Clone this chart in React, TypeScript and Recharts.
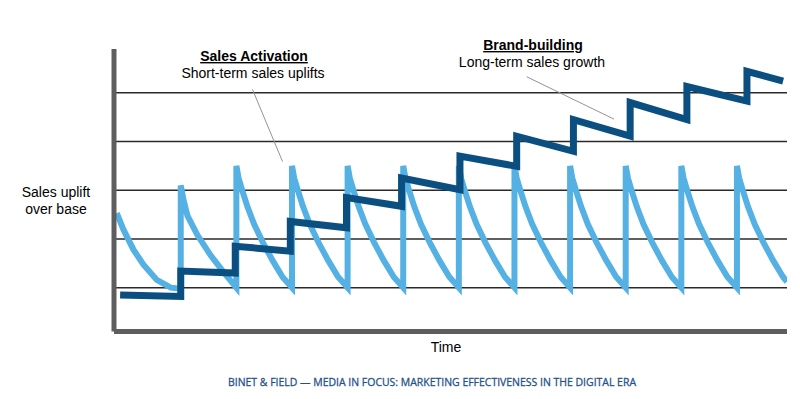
import React from "react";
import { LineChart, Line, XAxis, YAxis, ReferenceLine } from "recharts";

// Time axis (campaign bursts at whole units), vertical axis = sales uplift level
const gridLevels = [1, 2, 3, 4, 5];

// Light blue: short-term sales activation spikes [time, uplift]
const activationPoints: [number, number][] = [
  [-0.15, 2.53], [-0.03, 2.19], [0.15, 1.78], [0.33, 1.47], [0.57, 1.16], [0.82, 1.0], [1.0, 0.98],
  [1.0, 3.1], [1.05, 2.8], [1.12, 2.48], [1.3, 2.08], [1.54, 1.66], [1.77, 1.32], [2.0, 1.0],
  [2.0, 3.5], [2.04, 3.25], [2.1, 3.02], [2.2, 2.66], [2.32, 2.3], [2.48, 1.92], [2.65, 1.56], [2.83, 1.22], [3.0, 1.0],
  [3.0, 3.5], [3.04, 3.25], [3.1, 3.02], [3.2, 2.66], [3.32, 2.3], [3.48, 1.92], [3.65, 1.56], [3.83, 1.22], [4.0, 1.0],
  [4.0, 3.5], [4.04, 3.25], [4.1, 3.02], [4.2, 2.66], [4.32, 2.3], [4.48, 1.92], [4.65, 1.56], [4.83, 1.22], [5.0, 1.0],
  [5.0, 3.5], [5.04, 3.25], [5.1, 3.02], [5.2, 2.66], [5.32, 2.3], [5.48, 1.92], [5.65, 1.56], [5.83, 1.22], [6.0, 1.0],
  [6.0, 3.5], [6.04, 3.25], [6.1, 3.02], [6.2, 2.66], [6.32, 2.3], [6.48, 1.92], [6.65, 1.56], [6.83, 1.22], [7.0, 1.0],
  [7.0, 3.5], [7.04, 3.25], [7.1, 3.02], [7.2, 2.66], [7.32, 2.3], [7.48, 1.92], [7.65, 1.56], [7.83, 1.22], [8.0, 1.0],
  [8.0, 3.5], [8.04, 3.25], [8.1, 3.02], [8.2, 2.66], [8.32, 2.3], [8.48, 1.92], [8.65, 1.56], [8.83, 1.22], [9.0, 1.0],
  [9.0, 3.5], [9.04, 3.25], [9.1, 3.02], [9.2, 2.66], [9.32, 2.3], [9.48, 1.92], [9.65, 1.56], [9.83, 1.22], [10.0, 1.0],
  [10.0, 3.5], [10.04, 3.25], [10.1, 3.02], [10.2, 2.66], [10.32, 2.3], [10.48, 1.92], [10.65, 1.56], [10.83, 1.22], [11.0, 1.0],
  [11.0, 3.5], [11.04, 3.25], [11.1, 3.02], [11.2, 2.66], [11.32, 2.3], [11.48, 1.92], [11.65, 1.56], [11.83, 1.22], [11.9, 1.12],
];

// Dark blue: long-term brand-building baseline [time, uplift]
const brandPoints: [number, number][] = [
  [-0.09, 0.85], [1.0, 0.82], [1.0, 1.34], [1.98, 1.3], [1.98, 1.85], [2.97, 1.75], [2.97, 2.36],
  [3.98, 2.23], [3.98, 2.85], [4.97, 2.67], [4.97, 3.25], [6.02, 3.01], [6.02, 3.7], [7.04, 3.49],
  [7.04, 4.11], [8.06, 3.8], [8.06, 4.45], [9.08, 4.11], [9.08, 4.8], [10.1, 4.45], [10.1, 5.13],
  [11.18, 4.83], [11.18, 5.44], [11.83, 5.24],
];

// Annotation pointer lines [from, to]
const activationPointer: [number, number][] = [[2.29, 5.07], [2.83, 3.59]];
const brandPointer: [number, number][] = [[7.22, 5.33], [8.79, 4.46]];

const activationData = activationPoints.map(([t, v]) => ({ t, v }));
const brandData = brandPoints.map(([t, v]) => ({ t, v }));

const FONT = "'Liberation Sans', Arial, sans-serif";

export default function App() {
  return (
    <div style={{ position: "absolute", left: 0, top: 0, width: 800, height: 399, background: "#fff" }}>
      <LineChart width={800} height={399} margin={{ top: 49, right: 13, bottom: 37.5, left: 54 }}>
        <XAxis
          dataKey="t"
          type="number"
          domain={[-0.2, 11.9]}
          allowDataOverflow
          tick={false}
          tickLine={false}
          height={30}
          axisLine={{ stroke: "#5e5e5e", strokeWidth: 5 }}
        />
        <YAxis
          type="number"
          domain={[0.1, 5.9]}
          ticks={gridLevels}
          allowDataOverflow
          tick={false}
          tickLine={false}
          width={60}
          axisLine={{ stroke: "#5e5e5e", strokeWidth: 5 }}
        />
        {gridLevels.map((lv) => (
          <ReferenceLine key={lv} y={lv} stroke="#2a2a2a" strokeWidth={1.5} />
        ))}
        <ReferenceLine
          segment={activationPointer.map(([x, y]) => ({ x, y }))}
          stroke="#939393"
          strokeWidth={1}
        />
        <ReferenceLine
          segment={brandPointer.map(([x, y]) => ({ x, y }))}
          stroke="#939393"
          strokeWidth={1}
        />
        <Line
          data={activationData}
          dataKey="v"
          type="linear"
          stroke="#55b1e3"
          strokeWidth={6}
          strokeLinejoin="miter"
          dot={false}
          activeDot={false}
          isAnimationActive={false}
        />
        <Line
          data={brandData}
          dataKey="v"
          type="linear"
          stroke="#0b4f81"
          strokeWidth={7}
          strokeLinejoin="miter"
          dot={false}
          activeDot={false}
          isAnimationActive={false}
        />
      </LineChart>
      <svg
        width={800}
        height={399}
        style={{ position: "absolute", left: 0, top: 0, pointerEvents: "none" }}
      >
        <g fontFamily={FONT} fill="#000" textAnchor="middle">
          <text x={254} y={61} fontSize={14} fontWeight="bold" textDecoration="underline">
            Sales Activation
          </text>
          <text x={253} y={78} fontSize={14}>Short-term sales uplifts</text>
          <text x={533} y={50} fontSize={14} fontWeight="bold" textDecoration="underline">
            Brand-building
          </text>
          <text x={532} y={67} fontSize={14}>Long-term sales growth</text>
          <text x={56} y={197} fontSize={14}>Sales uplift</text>
          <text x={56} y={214} fontSize={14}>over base</text>
          <text x={446} y={352} fontSize={14}>Time</text>
        </g>
        <text
          x={432}
          y={385.5}
          textAnchor="middle"
          fontFamily="'Open Sans', 'Noto Sans', sans-serif"
          fontSize={11}
          fill="#1f5289"
          stroke="#1f5289"
          strokeWidth={0.3}
          textLength={408}
          lengthAdjust="spacingAndGlyphs"
        >
          BINET &amp; FIELD — MEDIA IN FOCUS: MARKETING EFFECTIVENESS IN THE DIGITAL ERA
        </text>
      </svg>
    </div>
  );
}
